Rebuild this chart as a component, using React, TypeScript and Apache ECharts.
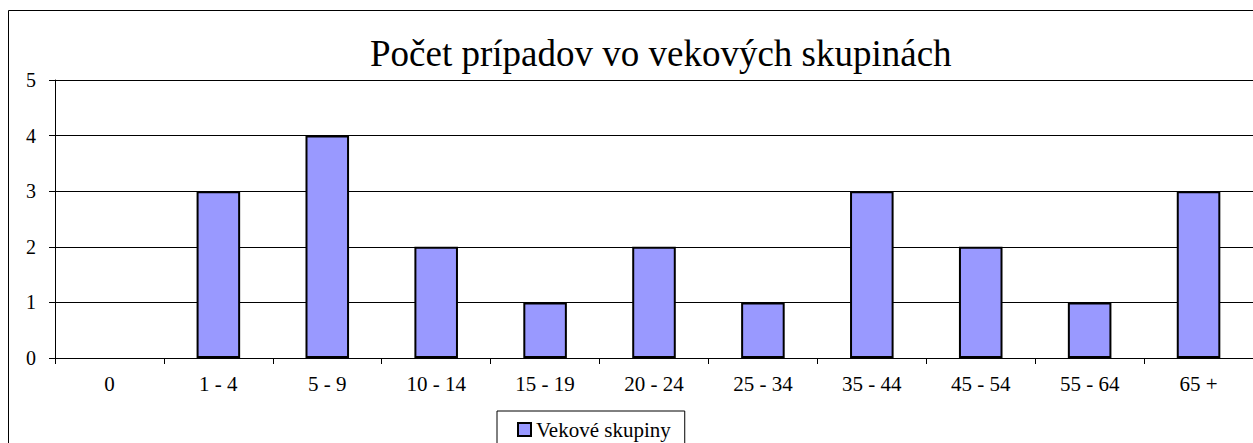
import React, { useEffect, useRef } from "react";
import * as echarts from "echarts";

const categories = ["0", "1 - 4", "5 - 9", "10 - 14", "15 - 19", "20 - 24", "25 - 34", "35 - 44", "45 - 54", "55 - 64", "65 +"];
const values = [0, 3, 4, 2, 1, 2, 1, 3, 2, 1, 3];
const seriesName = "Vekové skupiny";
const titleText = "Počet prípadov vo vekových skupinách";
const yMax = 5;

const FONT = "Liberation Serif";

export default function App() {
  const ref = useRef<HTMLDivElement>(null);
  useEffect(() => {
    document.body.style.margin = "0";
    const chart = echarts.init(ref.current!, null, { renderer: "svg" });
    chart.setOption({
      animation: false,
      backgroundColor: "#fff",
      textStyle: { fontFamily: FONT, color: "#000" },
      title: {
        text: titleText,
        left: 370,
        top: 35,
        padding: 0,
        textStyle: { fontFamily: FONT, fontSize: 37, fontWeight: "normal", color: "#000" },
      },
      graphic: [
        {
          type: "rect",
          shape: { x: 8.5, y: 10.5, width: 1400, height: 600 },
          style: { fill: "none", stroke: "#000", lineWidth: 1 },
          silent: true,
          z: 100,
        },
      ],
      legend: {
        data: [seriesName],
        left: 497,
        top: 411,
        orient: "horizontal",
        padding: [8, 14, 30, 20],
        borderColor: "#000",
        borderWidth: 1,
        backgroundColor: "#fff",
        icon: "rect",
        itemWidth: 13,
        itemHeight: 13,
        itemGap: 5,
        itemStyle: { borderColor: "#000", borderWidth: 2 },
        textStyle: { fontFamily: FONT, fontSize: 21, fontWeight: "normal", color: "#000" },
      },
      grid: { left: 55, top: 80, width: 1201, height: 278, containLabel: false },
      xAxis: {
        type: "category",
        data: categories,
        axisLine: { lineStyle: { color: "#000", width: 1 } },
        axisTick: { show: true, inside: false, length: 6, lineStyle: { color: "#000" } },
        axisLabel: { fontFamily: FONT, fontSize: 21, fontWeight: "normal", color: "#000", margin: 15, interval: 0 },
        splitLine: { show: false },
      },
      yAxis: {
        type: "value",
        min: 0,
        max: yMax,
        interval: 1,
        axisLine: { show: true, lineStyle: { color: "#000", width: 1 } },
        axisTick: { show: true, inside: false, length: 6, lineStyle: { color: "#000" } },
        axisLabel: { fontFamily: FONT, fontSize: 20, fontWeight: "normal", color: "#000", margin: 19 },
        splitLine: { show: true, lineStyle: { color: "#000", width: 1 } },
      },
      series: [
        {
          name: seriesName,
          type: "bar",
          barWidth: "40%",
          data: values.map((v) => (v === 0 ? { value: v, itemStyle: { borderWidth: 0 } } : v)),
          itemStyle: { color: "#9999FF", borderColor: "#000", borderWidth: 2 },
        },
      ],
    });
    return () => chart.dispose();
  }, []);
  return <div ref={ref} style={{ width: 1253, height: 443 }} />;
}
